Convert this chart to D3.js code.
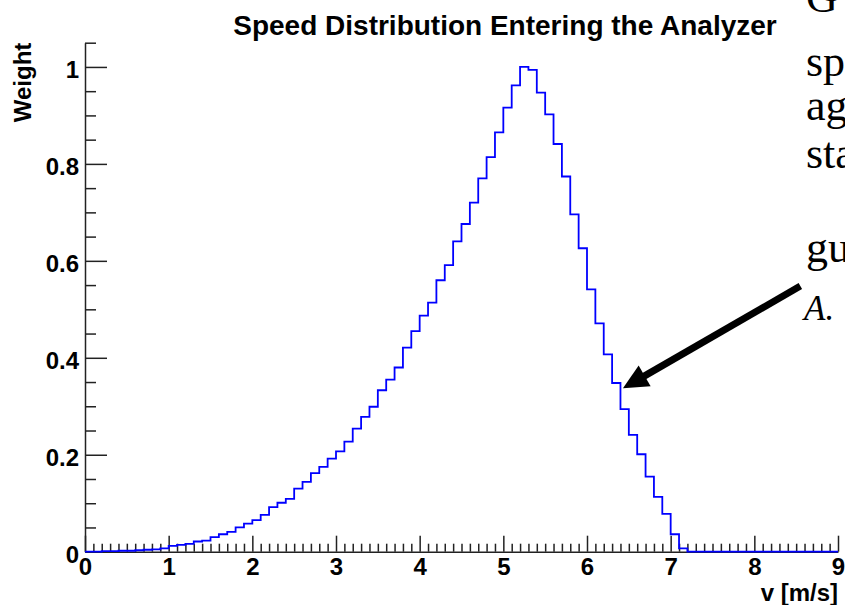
<!DOCTYPE html>
<html>
<head>
<meta charset="utf-8">
<script src="https://cdnjs.cloudflare.com/ajax/libs/d3/7.8.5/d3.min.js"></script>
<style>
body { margin: 0; background: white; }
svg { display: block; overflow: hidden; }
</style>
</head>
<body>
<div class="hist-chart"></div>
<script>
//histogram range and bin contents (90 bins of 0.1 m/s)
var xRange = [0, 9];
var yRange = [0, 1.05];
var binWidth = 0.1;
var weights = [
    0.000, 0.000, 0.001, 0.001, 0.002, 0.002, 0.003, 0.004, 0.005, 0.007,
    0.012, 0.014, 0.016, 0.021, 0.023, 0.030, 0.036, 0.041, 0.050, 0.058,
    0.065, 0.076, 0.092, 0.101, 0.109, 0.130, 0.144, 0.162, 0.175, 0.192,
    0.207, 0.227, 0.254, 0.278, 0.299, 0.333, 0.355, 0.380, 0.421, 0.455,
    0.487, 0.514, 0.560, 0.591, 0.640, 0.676, 0.720, 0.770, 0.814, 0.865,
    0.916, 0.962, 1.000, 0.994, 0.947, 0.902, 0.841, 0.774, 0.696, 0.626,
    0.541, 0.471, 0.407, 0.348, 0.294, 0.241, 0.201, 0.155, 0.113, 0.078,
    0.036, 0.007, 0.000, 0.000, 0.000, 0.000, 0.000, 0.000, 0.000, 0.000,
    0.000, 0.000, 0.000, 0.000, 0.000, 0.000, 0.000, 0.000, 0.000, 0.000
];

//tick values and labels
var xMajorTicks = [0, 1, 2, 3, 4, 5, 6, 7, 8, 9];
var xTickLabels = ["0", "1", "2", "3", "4", "5", "6", "7", "8", "9"];
var yMajorTicks = [0, 0.2, 0.4, 0.6, 0.8, 1];
var yTickLabels = ["0", "0.2", "0.4", "0.6", "0.8", "1"];

//titles
var chartTitle = "Speed Distribution Entering the Analyzer";
var xTitle = "v [m/s]";
var yTitle = "Weight";

//arrow annotation (data coords): from tail to tip
var arrowTail = {v: 8.55, w: 0.548};
var arrowTip = {v: 6.43, w: 0.337};

//slide text that shows on the right edge
var sideLines = ["G", "sp", "ag", "sta", "gu"];
var sideBaselines = [12, 76, 120, 168, 262];
var sideRef = "A.";

var width = 845;
var height = 605;
var plotLeft = 85, plotRight = 838, plotTop = 42.7, plotBottom = 551.7;
var sans = "'Liberation Sans', Arial, Helvetica, sans-serif";
var serif = "'Liberation Serif', 'Times New Roman', Times, serif";

var svg = d3.select(".hist-chart").append("svg")
    .attr("width", width)
    .attr("height", height)
    .style("background-color", "white");

var x = d3.scaleLinear().domain(xRange).range([plotLeft, plotRight]);
var y = d3.scaleLinear().domain(yRange).range([plotBottom, plotTop]);

//title
svg.append("text")
    .attr("x", 505)
    .attr("y", 35)
    .attr("text-anchor", "middle")
    .attr("font-family", sans)
    .attr("font-weight", "bold")
    .attr("font-size", "28px")
    .text(chartTitle);

//x axis: minor ticks every 0.1, major every 1 (ticks point up, ROOT style)
var xMinor = d3.range(0, 90).map(i => i * binWidth).filter((d, i) => i % 10 != 0);
svg.append("g")
    .attr("class", "x-minor")
    .attr("transform", "translate(0," + plotBottom + ")")
    .call(d3.axisBottom(x).tickValues(xMinor).tickSize(-8).tickSizeOuter(0).tickFormat(""));

svg.append("g")
    .attr("class", "x-major")
    .attr("transform", "translate(0," + plotBottom + ")")
    .call(d3.axisBottom(x).tickValues(xMajorTicks).tickSize(-16).tickSizeOuter(0).tickPadding(6)
        .tickFormat((d, i) => xTickLabels[i]));

//y axis: minor every 0.05, major every 0.2
var yMinor = d3.range(0, 22).map(i => i * 0.05).filter((d, i) => i % 4 != 0);
svg.append("g")
    .attr("class", "y-minor")
    .attr("transform", "translate(" + plotLeft + ",0)")
    .call(d3.axisLeft(y).tickValues(yMinor).tickSize(-11).tickSizeOuter(0).tickFormat(""));

svg.append("g")
    .attr("class", "y-major")
    .attr("transform", "translate(" + plotLeft + ",0)")
    .call(d3.axisLeft(y).tickValues(yMajorTicks).tickSize(-22).tickSizeOuter(0).tickPadding(6)
        .tickFormat((d, i) => yTickLabels[i]));

svg.selectAll(".x-minor .domain, .y-minor .domain").remove();
svg.selectAll(".tick line, .domain")
    .attr("stroke", "#222")
    .attr("stroke-width", 1.5);
svg.selectAll(".tick text")
    .attr("font-family", sans)
    .attr("font-weight", "bold")
    .attr("font-size", "24px")
    .attr("fill", "black");
svg.selectAll(".y-major .tick text").attr("dy", "0.46em");

//axis titles
svg.append("text")
    .attr("x", plotRight)
    .attr("y", 601)
    .attr("text-anchor", "end")
    .attr("font-family", sans)
    .attr("font-weight", "bold")
    .attr("font-size", "24px")
    .text(xTitle);

svg.append("text")
    .attr("transform", "translate(31," + plotTop + ") rotate(-90)")
    .attr("text-anchor", "end")
    .attr("font-family", sans)
    .attr("font-weight", "bold")
    .attr("font-size", "24px")
    .text(yTitle);

//histogram outline
var histPts = weights.map((w, i) => ({v: xRange[0] + i * binWidth, w: w}));
histPts.push({v: xRange[1], w: weights[weights.length - 1]});

var line = d3.line()
    .x(d => x(d.v))
    .y(d => y(d.w))
    .curve(d3.curveStepAfter);

svg.append("path")
    .datum(histPts)
    .attr("fill", "none")
    .attr("stroke", "#0000ff")
    .attr("stroke-width", 1.8)
    .attr("d", line);

//arrow
var tx = x(arrowTip.v), ty = y(arrowTip.w);
var sx = x(arrowTail.v), sy = y(arrowTail.w);
var len = Math.sqrt((sx - tx) * (sx - tx) + (sy - ty) * (sy - ty));
var ux = (sx - tx) / len, uy = (sy - ty) / len;
var headLen = 25, headHalf = 12;
var bx = tx + ux * headLen, by = ty + uy * headLen;

svg.append("line")
    .attr("x1", sx)
    .attr("y1", sy)
    .attr("x2", tx + ux * (headLen - 2))
    .attr("y2", ty + uy * (headLen - 2))
    .attr("stroke", "black")
    .attr("stroke-width", 7);

svg.append("path")
    .attr("d", "M" + tx + "," + ty +
        "L" + (bx - uy * headHalf) + "," + (by + ux * headHalf) +
        "L" + (bx + uy * headHalf) + "," + (by - ux * headHalf) + "Z")
    .attr("fill", "black");

//slide text, cut by the right edge
svg.selectAll(".side-text")
    .data(sideLines)
    .enter().append("text")
    .attr("class", "side-text")
    .attr("x", 806)
    .attr("y", (d, i) => sideBaselines[i])
    .attr("font-family", serif)
    .attr("font-size", "44px")
    .text(d => d);

svg.append("text")
    .attr("x", 804)
    .attr("y", 320)
    .attr("font-family", serif)
    .attr("font-style", "italic")
    .attr("font-size", "35px")
    .text(sideRef);
</script>
</body>
</html>
